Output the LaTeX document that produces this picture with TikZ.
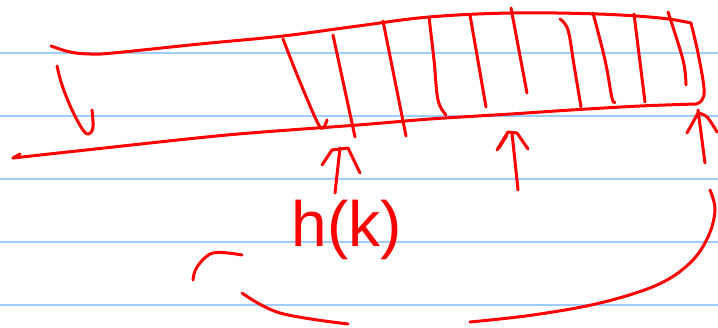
\documentclass[tikz,border=0pt]{standalone}
\usepackage{fontspec}
\setmainfont{Liberation Sans}
\begin{document}
\begin{tikzpicture}[x=1pt,y=-1pt,
  rule/.style={draw={rgb,255:red,160;green,205;blue,255},line width=2pt},
  ink/.style={draw=red,line width=3pt,line cap=round,line join=round},
  lbl/.style={text=red,font=\fontsize{64}{64}\selectfont,inner sep=0pt,anchor=base}]
\useasboundingbox (0,0) rectangle (718,328);
\fill[white] (0,0) rectangle (718,328);
% ruled paper
\foreach \yy in {53,116,179,242.5,305.5} \draw[rule] (0,\yy) -- (718,\yy);
% top edge of strip
\draw[ink] plot[smooth,tension=0.6] coordinates {(51,46) (70,52) (90,54) (113,53) (200,44) (283,36) (358,26) (429,17) (511,13) (598,14) (660,18) (691,23)};
\draw[ink] plot[smooth,tension=0.6] coordinates {(691,23) (698,53) (704,88) (702,100) (696,104)};
% bottom edge of strip
\draw[ink] plot[smooth,tension=0.5] coordinates {(696,104) (640,106) (571,110) (511,114) (430,119) (358,125) (227,135) (77,151) (13,158)};
\draw[ink] (13,158) -- (20,154);
% left hook stroke
\draw[ink] plot[smooth,tension=0.6] coordinates {(57,66) (62,85) (72,110) (83,130) (89,134) (93,127) (92,110)};
% hatching
\draw[ink] plot[smooth,tension=0.5] coordinates {(283,39) (300,82) (320,127) (327,120)};
\draw[ink] (333,35) -- (355,137);
\draw[ink] (383,21) -- (406,136);
\draw[ink] plot[smooth,tension=0.6] coordinates {(429,17) (434,60) (438,100) (446,115)};
\draw[ink] (470,15) -- (486,107);
\draw[ink] (511,8) -- (527,93);
\draw[ink] plot[smooth,tension=0.6] coordinates {(560,19) (568,30) (574,65) (581,107)};
\draw[ink] plot[smooth,tension=0.6] coordinates {(593,13) (605,60) (612,98) (615,102)};
\draw[ink] (634,14) -- (645,102);
\draw[ink] plot[smooth,tension=0.6] coordinates {(668,12) (683,60) (686,85)};
% arrows from below
\draw[ink] (335,193) -- (340,148);
\draw[ink] (322,165) -- (332,150) -- (348,148) -- (360,173);
\draw[ink] (518,190) -- (512,133);
\draw[ink] (497,150) -- (508,132) -- (517,133) -- (528,149);
\draw[ink] (499,148) -- (507,135);
\draw[ink] (705,163) -- (698,110);
\draw[ink] (687,133) -- (698,113);
\draw[ink] plot[smooth,tension=0.6] coordinates {(698,113) (707,117) (717,132)};
% label
\node[lbl] (hk) at (347,247) {h(k)};
% bottom curves
\draw[ink] plot[smooth,tension=0.6] coordinates {(242,255) (213,253) (197,267) (193,280)};
\draw[ink] plot[smooth,tension=0.6] coordinates {(242,293) (280,313) (348,324)};
\draw[ink] plot[smooth,tension=0.6] coordinates {(470,322) (533,315) (600,303) (657,285) (690,263) (708,237) (715,210) (710,190)};
\end{tikzpicture}
\end{document}
